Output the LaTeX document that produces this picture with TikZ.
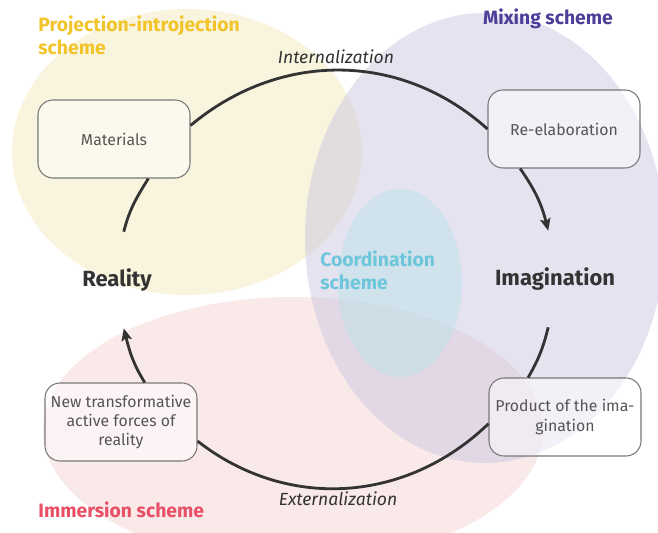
\documentclass[tikz,border=0pt]{standalone}
\usepackage{fontspec}
\setmainfont{Fira Sans}
\usetikzlibrary{arrows.meta}
\definecolor{yellowzone}{RGB}{241,233,189}
\definecolor{purplezone}{RGB}{203,199,225}
\definecolor{pinkzone}{RGB}{245,211,211}
\definecolor{cyanzone}{RGB}{187,225,232}
\definecolor{projyellow}{RGB}{242,196,41}
\definecolor{mixpurple}{RGB}{75,63,153}
\definecolor{coordcyan}{RGB}{110,198,218}
\definecolor{immpink}{RGB}{232,80,103}
\definecolor{boxtext}{RGB}{85,85,85}
\definecolor{stagetext}{RGB}{51,51,51}
\definecolor{flowgray}{RGB}{51,51,51}
\definecolor{boxgray}{RGB}{120,120,120}
\begin{document}
\begin{tikzpicture}[x=0.02cm, y=-0.02cm,
  zone/.style={fill opacity=0.5},
  box/.style={draw=boxgray, line width=0.6pt, rounded corners=0.3cm, fill=white, fill opacity=0.5, text opacity=1, minimum width=3.04cm, minimum height=1.56cm, inner sep=1pt, align=center, text=boxtext, font=\fontsize{9}{11}\selectfont},
  stage/.style={minimum height=1.92cm, text=stagetext, font=\fontsize{12.5}{15}\selectfont\bfseries},
  flow/.style={draw=flowgray, line width=1.6pt},
  tip/.style={-{Stealth[length=7pt,width=6pt,inset=1.5pt]}},
  scheme/.style={font=\fontsize{11}{13.6}\selectfont\bfseries, align=left, inner sep=0pt},
  phase/.style={font=\fontsize{10}{12}\selectfont\itshape, text=stagetext, inner sep=0pt}]
\useasboundingbox (0,0) rectangle (658,533);
\clip (0,0) rectangle (658,533);
\fill[zone, yellowzone] (187,152) ellipse [x radius=175, y radius=143];
\fill[zone, pinkzone] (293,430) ellipse [x radius=250, y radius=133];
\fill[zone, purplezone] (485,238) ellipse [x radius=180, y radius=225];
\fill[zone, cyanzone] (400,283) ellipse [x radius=62, y radius=94];
\node[scheme, text=projyellow, anchor=north west] (projlabel) at (38,15) {Projection-introjection\\scheme};
\node[scheme, text=mixpurple, anchor=base] (mixlabel) at (548,25) {Mixing scheme};
\node[scheme, text=coordcyan, anchor=north west] (coordlabel) at (320,250) {Coordination\\scheme};
\node[scheme, text=immpink, anchor=base west] (immlabel) at (38,517) {Immersion scheme};
\node[phase, anchor=base] (internal) at (336,64) {Internalization};
\node[phase, anchor=base] (external) at (338,505) {Externalization};
\node[stage] (reality) at (117,280) {Reality};
\node[stage] (imagination) at (555,279) {Imagination};
\node[box] (materials) at (114,139) {Materials};
\node[box] (reelab) at (564,129) {Re-elaboration};
\node[box] (forces) at (121,422) {New transformative\\active forces of\\reality};
\node[box] (product) at (565,417) {Product of the ima-\\gination};
\draw[flow] (reality.82) to[out=76, in=-122] (materials.-49);
\draw[flow] (materials.10) to[out=40, in=138] (reelab.west);
\draw[flow, tip] (reelab.-138) to[out=-55, in=104] (imagination.98);
\draw[flow] (imagination.-98) to[out=-104, in=60] (product.133);
\draw[flow] (product.-175) to[out=-136, in=-38] (forces.-14);
\draw[flow, tip] (forces.59) to[out=122, in=-76] (reality.-82);
\end{tikzpicture}
\end{document}
